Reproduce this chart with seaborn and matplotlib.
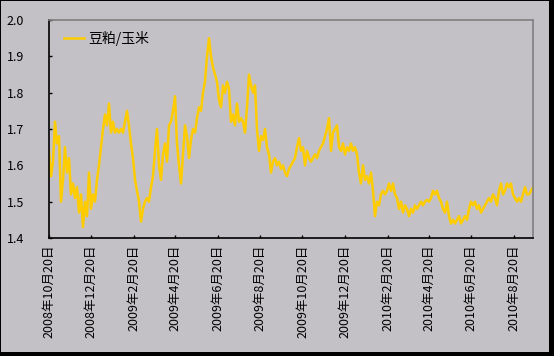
import matplotlib
matplotlib.use("Agg")
import matplotlib.pyplot as plt
from matplotlib.patches import Rectangle
import seaborn as sns
import pandas as pd

# 豆粕/玉米 比价, values (roughly every 3 days)
ratio = [
    1.64, 1.57, 1.61, 1.72, 1.66, 1.68, 1.50, 1.56, 1.65, 1.58,
    1.62, 1.52, 1.55, 1.51, 1.54, 1.47, 1.52, 1.43, 1.50, 1.46,
    1.58, 1.48, 1.52, 1.50, 1.56, 1.60, 1.65, 1.70, 1.74, 1.71,
    1.77, 1.69, 1.72, 1.69, 1.70, 1.69, 1.70, 1.69, 1.72, 1.75,
    1.71, 1.66, 1.62, 1.56, 1.53, 1.50, 1.445, 1.48, 1.50, 1.51,
    1.50, 1.54, 1.57, 1.64, 1.70, 1.60, 1.56, 1.63, 1.66, 1.61,
    1.71, 1.72, 1.75, 1.79, 1.66, 1.60, 1.55, 1.63, 1.71, 1.68,
    1.62, 1.67, 1.70, 1.69, 1.73, 1.76, 1.75, 1.80, 1.83, 1.90,
    1.95, 1.90, 1.87, 1.85, 1.83, 1.78, 1.76, 1.82, 1.80, 1.83,
    1.81, 1.72, 1.74, 1.71, 1.77, 1.72, 1.73, 1.72, 1.69, 1.76,
    1.85, 1.82, 1.80, 1.82, 1.70, 1.64, 1.68, 1.67, 1.70, 1.65,
    1.63, 1.58, 1.61, 1.62, 1.60, 1.61, 1.59, 1.60, 1.58, 1.57,
    1.59, 1.60, 1.61, 1.62, 1.65, 1.675, 1.64, 1.65, 1.60, 1.64,
    1.62, 1.61, 1.62, 1.63, 1.62, 1.64, 1.65, 1.66, 1.68, 1.70,
    1.73, 1.64, 1.69, 1.70, 1.71, 1.65, 1.64, 1.66, 1.63, 1.65,
    1.64, 1.66, 1.64, 1.65, 1.63, 1.58, 1.55, 1.60, 1.56, 1.57,
    1.55, 1.58, 1.53, 1.46, 1.50, 1.49, 1.52, 1.53, 1.52, 1.53,
    1.55, 1.53, 1.55, 1.52, 1.51, 1.48, 1.50, 1.47, 1.49, 1.48,
    1.46, 1.48, 1.47, 1.49, 1.48, 1.49, 1.50, 1.49, 1.50, 1.505,
    1.50, 1.51, 1.53, 1.52, 1.53, 1.51, 1.50, 1.48, 1.47, 1.50,
    1.46, 1.44, 1.45, 1.44, 1.45, 1.46, 1.44, 1.45, 1.46, 1.45,
    1.48, 1.50, 1.49, 1.50, 1.48, 1.49, 1.47, 1.48, 1.49, 1.50,
    1.51, 1.50, 1.52, 1.51, 1.49, 1.53, 1.55, 1.52, 1.53, 1.55,
    1.54, 1.55, 1.52, 1.51, 1.50, 1.51, 1.50, 1.52, 1.54, 1.52,
    1.52, 1.53, 1.54,
]
start_date = "2008-10-20"
end_date = "2010-09-17"
tick_dates = pd.date_range("2008-10-01", "2010-08-01", freq="2MS") + pd.Timedelta(days=19)
y_ticks = [1.4, 1.5, 1.6, 1.7, 1.8, 1.9, 2.0]

df = pd.DataFrame({
    "日期": pd.date_range(start_date, end_date, periods=len(ratio)),
    "豆粕/玉米": ratio,
})

plt.rcParams["font.family"] = ["Noto Sans CJK SC", "DejaVu Sans"]
bg = "#C3C1C5"

fig = plt.figure(figsize=(5.54, 3.56), dpi=100)
fig.patch.set_facecolor("black")
frame = Rectangle((1 / 554, 4 / 356), 548 / 554, 351 / 356,
                  transform=fig.transFigure, facecolor=bg,
                  edgecolor="none", zorder=-10)
fig.add_artist(frame)

ax = fig.add_axes([49 / 554, 118 / 356, 484 / 554, 218 / 356])
ax.set_facecolor(bg)

sns.lineplot(data=df, x="日期", y="豆粕/玉米", ax=ax, color="#FFCC00",
             linewidth=1.8, label="豆粕/玉米")

ax.set_xlim(pd.Timestamp(start_date), pd.Timestamp(end_date))
ax.set_ylim(1.4, 2.0)
ax.set_yticks(y_ticks)
ax.set_yticklabels([f"{v:.1f}" for v in y_ticks])
ax.set_xticks(tick_dates)
ax.set_xticklabels([f"{d.year}年{d.month}月{d.day}日" for d in tick_dates],
                   rotation=90)
ax.set_xlabel("")
ax.set_ylabel("")

ax.tick_params(axis="both", direction="in", length=2.5, width=1, labelsize=9,
               colors="black")
ax.tick_params(axis="y", pad=18)
ax.tick_params(axis="x", pad=5)

for s in ["left", "bottom"]:
    ax.spines[s].set_color("black")
    ax.spines[s].set_linewidth(1.2)
for s in ["top", "right"]:
    ax.spines[s].set_color("#808080")
    ax.spines[s].set_linewidth(1.2)

ax.legend(loc="center left", bbox_to_anchor=(0.03, 0.917), frameon=False,
          fontsize=10, handlelength=1.5, handletextpad=0.3, borderpad=0,
          borderaxespad=0)

fig.savefig("out.png", dpi=100, facecolor=fig.get_facecolor())
